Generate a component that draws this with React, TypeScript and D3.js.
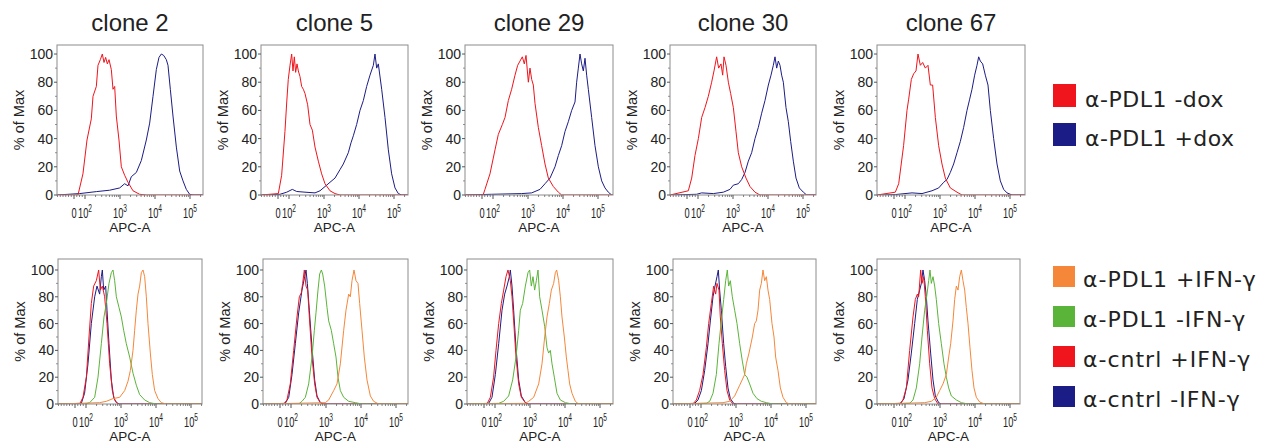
import React from "react";
import * as d3 from "d3";

type Pt = [number, number]; // [log10(APC-A), % of Max]

const cloneNames = ["clone 2", "clone 5", "clone 29", "clone 30", "clone 67"];
const topLegend = ["α-PDL1 -dox", "α-PDL1 +dox"];
const bottomLegend = ["α-PDL1 +IFN-γ", "α-PDL1 -IFN-γ", "α-cntrl +IFN-γ", "α-cntrl -IFN-γ"];
const yTicks = [0, 20, 40, 60, 80, 100];
const xMajor = [0, 1e2, 1e3, 1e4, 1e5];
const xMajorExp = ["", "2", "3", "4", "5"];

// ---- top row: α-PDL1 -dox (red) / +dox (blue)
const c2Minus: Pt[] = [[1.56,0],[1.91,15],[2.057,39],[2.18,54],[2.229,70],[2.324,77],[2.371,92],[2.438,96],[2.495,100],[2.543,94],[2.59,97.6],[2.638,93],[2.686,96],[2.752,89],[2.8,75],[2.848,77],[2.895,56],[2.971,39],[3.038,20],[3.133,14],[3.229,9],[3.371,3],[3.562,0.5],[3.75,0]];
const c2Plus: Pt[] = [[1.71,1],[2.324,2.4],[2.705,3.4],[2.99,5],[3.133,8],[3.229,6.5],[3.324,13],[3.467,16],[3.61,24.5],[3.752,39],[3.848,51],[3.943,70],[4.038,89],[4.114,97.6],[4.181,100],[4.248,99],[4.324,96],[4.371,92],[4.438,75],[4.514,56],[4.61,34],[4.705,17],[4.8,10],[4.895,4],[4.99,0.5],[5.086,0]];
const c5Minus: Pt[] = [[0.48,1],[1.52,14],[1.8,45],[1.9,66],[1.97,82],[2.029,92],[2.076,100],[2.114,88],[2.152,98],[2.19,87],[2.229,93],[2.267,88],[2.314,84],[2.362,77],[2.41,75],[2.457,72],[2.533,64],[2.6,50],[2.667,46],[2.743,34],[2.838,24],[2.933,15],[3.029,8],[3.171,3],[3.314,1],[3.457,0]];
const c5Plus: Pt[] = [[1.26,0.5],[1.9,2],[2.095,4],[2.219,2.5],[2.457,2],[2.743,1.5],[2.886,3],[3.029,6],[3.171,9],[3.314,12],[3.457,18],[3.552,22],[3.695,30],[3.771,37],[3.838,42],[3.933,50],[4.029,60],[4.124,67],[4.219,77],[4.314,85],[4.41,92],[4.457,100],[4.505,90],[4.552,93],[4.648,75],[4.743,55],[4.838,32],[4.933,15],[5.029,5],[5.124,1],[5.219,0]];
const c29Minus: Pt[] = [[1.0,0],[1.43,4],[1.86,15],[2.057,32],[2.152,43],[2.267,50],[2.343,55],[2.438,67],[2.533,75],[2.629,85],[2.705,92],[2.771,95],[2.838,98],[2.895,93],[2.943,99],[3.01,80],[3.057,90],[3.105,82],[3.152,78],[3.2,65],[3.295,48],[3.39,35],[3.486,22],[3.581,12],[3.724,6],[3.867,2],[3.962,0]];
const c29Plus: Pt[] = [[1.94,0.5],[2.819,1],[3.105,1.5],[3.343,4],[3.486,8],[3.629,12],[3.771,20],[3.867,28],[3.962,35],[4.057,45],[4.152,52],[4.248,60],[4.343,66],[4.39,80],[4.438,90],[4.486,100],[4.533,93],[4.581,88],[4.629,97],[4.676,85],[4.724,75],[4.819,55],[4.914,35],[5.01,20],[5.105,10],[5.2,5],[5.295,2],[5.39,0]];
const c30Minus: Pt[] = [[1.08,3],[1.63,12],[1.86,28],[2.01,40],[2.105,55],[2.2,62],[2.295,70],[2.39,80],[2.457,88],[2.533,98],[2.59,90],[2.657,93],[2.705,85],[2.743,98],[2.8,92],[2.867,80],[2.933,72],[3.01,62],[3.086,45],[3.152,30],[3.248,20],[3.371,12],[3.486,6],[3.629,2],[3.771,0]];
const c30Plus: Pt[] = [[1.94,0.5],[2.105,1.5],[2.438,1],[2.724,2],[2.914,4],[3.01,7],[3.152,8],[3.248,11],[3.343,16],[3.438,24],[3.533,30],[3.629,40],[3.724,48],[3.819,58],[3.914,67],[4.01,78],[4.086,85],[4.152,92],[4.2,98],[4.248,90],[4.295,95],[4.343,92],[4.39,85],[4.438,80],[4.514,62],[4.581,52],[4.648,38],[4.724,24],[4.8,12],[4.895,5],[5.01,2],[5.105,0]];
const c67Minus: Pt[] = [[1.08,2],[1.63,8],[1.94,35],[2.057,60],[2.105,68],[2.181,82],[2.248,86],[2.314,88],[2.371,100],[2.438,92],[2.505,94],[2.581,90],[2.657,92],[2.724,78],[2.79,78],[2.867,55],[2.962,35],[3.057,22],[3.152,12],[3.295,5],[3.486,2],[3.629,0]];
const c67Plus: Pt[] = [[1.08,0.3],[2.2,1.5],[2.486,1],[2.771,3],[2.962,5],[3.105,9],[3.2,11],[3.295,16],[3.39,22],[3.486,30],[3.581,38],[3.676,48],[3.771,60],[3.848,68],[3.914,75],[3.99,85],[4.057,92],[4.105,98],[4.152,95],[4.219,93],[4.295,85],[4.371,78],[4.438,60],[4.533,40],[4.629,22],[4.724,10],[4.819,4],[4.914,1.5],[5.057,0]];

// ---- bottom row: orange α-PDL1 +IFN, green α-PDL1 -IFN, red α-cntrl +IFN, blue α-cntrl -IFN
const b2Orange: Pt[] = [[2.39,1],[2.581,2],[2.771,4],[2.962,5],[3.105,10],[3.2,17],[3.267,25],[3.343,40],[3.39,55],[3.438,70],[3.486,82],[3.533,88],[3.581,98],[3.629,100],[3.676,95],[3.724,80],[3.771,60],[3.838,38],[3.895,22],[3.962,10],[4.057,4],[4.152,1],[4.295,0]];
const b2Green: Pt[] = [[1.94,0],[2.105,1],[2.248,5],[2.343,20],[2.438,45],[2.514,65],[2.581,75],[2.657,90],[2.724,98],[2.771,100],[2.819,92],[2.867,80],[2.943,72],[3.01,65],[3.076,55],[3.152,45],[3.248,35],[3.343,23],[3.438,14],[3.533,7],[3.676,3],[3.819,1],[4.01,0]];
const b2Red: Pt[] = [[1.63,0],[1.86,5],[2.01,20],[2.086,50],[2.152,75],[2.219,88],[2.295,92],[2.362,100],[2.41,85],[2.467,88],[2.533,80],[2.6,60],[2.676,30],[2.752,10],[2.819,3],[2.914,0]];
const b2Blue: Pt[] = [[1.76,0.5],[1.94,8],[2.057,30],[2.152,60],[2.248,80],[2.314,88],[2.39,82],[2.438,95],[2.467,100],[2.505,85],[2.562,88],[2.6,70],[2.657,45],[2.724,18],[2.79,5],[2.867,1],[2.962,0]];

const b5Orange: Pt[] = [[2.981,1],[3.076,3],[3.219,10],[3.314,15],[3.41,30],[3.505,55],[3.571,70],[3.648,82],[3.695,80],[3.743,92],[3.8,100],[3.857,92],[3.914,90],[3.962,75],[4.029,55],[4.095,35],[4.171,18],[4.267,6],[4.362,2],[4.505,0]];
const b5Green: Pt[] = [[2.219,0],[2.314,2],[2.41,5],[2.505,15],[2.6,35],[2.667,55],[2.714,68],[2.771,85],[2.819,97],[2.867,100],[2.905,97],[2.962,88],[3.029,72],[3.076,62],[3.152,55],[3.219,45],[3.286,35],[3.343,20],[3.41,10],[3.505,5],[3.648,2],[3.838,1],[4.029,0]];
const b5Red: Pt[] = [[1.52,0],[1.8,3],[1.97,15],[2.076,40],[2.171,65],[2.238,80],[2.295,83],[2.333,90],[2.381,100],[2.429,88],[2.476,85],[2.524,65],[2.6,35],[2.676,15],[2.743,5],[2.838,1],[2.933,0]];
const b5Blue: Pt[] = [[1.68,0.5],[1.9,5],[2.029,22],[2.124,45],[2.219,68],[2.314,85],[2.39,95],[2.429,100],[2.467,90],[2.524,70],[2.6,42],[2.676,18],[2.743,6],[2.838,1],[2.933,0]];

const b29Orange: Pt[] = [[2.867,0.5],[2.962,2],[3.105,5],[3.248,15],[3.343,30],[3.419,50],[3.486,65],[3.552,75],[3.61,85],[3.676,90],[3.724,98],[3.762,100],[3.819,92],[3.867,80],[3.914,65],[3.981,50],[4.038,35],[4.086,25],[4.133,15],[4.2,8],[4.295,2],[4.39,0]];
const b29Green: Pt[] = [[2.105,0.5],[2.248,2],[2.39,6],[2.505,18],[2.6,35],[2.676,55],[2.724,70],[2.79,75],[2.867,88],[2.943,98],[2.99,100],[3.038,88],[3.086,95],[3.133,85],[3.181,92],[3.229,100],[3.276,80],[3.343,70],[3.419,58],[3.486,42],[3.533,38],[3.581,40],[3.629,30],[3.695,20],[3.771,8],[3.867,3],[4.01,1],[4.2,0]];
const b29Red: Pt[] = [[1.43,0],[1.76,5],[1.94,20],[2.029,40],[2.105,60],[2.181,75],[2.248,85],[2.314,95],[2.371,100],[2.438,92],[2.486,80],[2.533,62],[2.6,35],[2.676,15],[2.752,5],[2.867,1],[2.962,0]];
const b29Blue: Pt[] = [[1.63,0.5],[1.86,5],[2.01,22],[2.105,45],[2.2,70],[2.276,82],[2.343,88],[2.41,95],[2.438,100],[2.486,88],[2.533,70],[2.6,42],[2.676,18],[2.752,6],[2.867,1],[2.962,0]];

const b30Orange: Pt[] = [[2.629,1],[2.819,2],[2.962,6],[3.105,14],[3.248,22],[3.295,30],[3.371,38],[3.467,50],[3.533,60],[3.581,62],[3.629,70],[3.676,85],[3.724,90],[3.771,100],[3.819,92],[3.867,95],[3.914,85],[3.962,78],[4.029,60],[4.086,50],[4.133,35],[4.2,25],[4.267,12],[4.343,5],[4.438,1],[4.533,0]];
const b30Green: Pt[] = [[2.152,0.5],[2.248,2],[2.343,8],[2.438,22],[2.514,45],[2.581,62],[2.648,78],[2.705,92],[2.752,100],[2.79,88],[2.838,92],[2.895,80],[2.962,70],[3.029,60],[3.105,45],[3.181,32],[3.248,22],[3.314,20],[3.39,15],[3.486,8],[3.6,4],[3.724,2],[3.867,1],[4.057,0]];
const b30Red: Pt[] = [[1.43,0],[1.76,3],[1.94,10],[2.057,22],[2.152,42],[2.219,60],[2.295,75],[2.362,88],[2.419,82],[2.457,90],[2.514,85],[2.552,65],[2.61,45],[2.676,25],[2.743,10],[2.819,3],[2.914,0]];
const b30Blue: Pt[] = [[1.63,0.5],[1.86,3],[2.01,10],[2.105,25],[2.2,45],[2.267,62],[2.343,80],[2.4,88],[2.457,95],[2.495,100],[2.533,85],[2.581,70],[2.648,45],[2.705,28],[2.771,12],[2.838,4],[2.933,0.5],[3.01,0]];

const b67Orange: Pt[] = [[2.562,1],[2.752,2],[2.895,5],[2.99,10],[3.086,15],[3.181,22],[3.248,35],[3.305,45],[3.371,62],[3.419,78],[3.467,88],[3.514,85],[3.562,95],[3.61,100],[3.657,92],[3.705,85],[3.752,72],[3.8,60],[3.857,42],[3.914,25],[3.971,12],[4.038,5],[4.133,1.5],[4.276,0]];
const b67Green: Pt[] = [[2.133,0.5],[2.229,3],[2.324,12],[2.419,30],[2.486,50],[2.562,70],[2.629,82],[2.676,92],[2.714,100],[2.752,90],[2.8,95],[2.848,88],[2.895,78],[2.962,60],[3.038,45],[3.114,30],[3.181,20],[3.248,12],[3.324,6],[3.467,3],[3.61,1],[3.8,0]];
const b67Red: Pt[] = [[1.71,0],[1.91,3],[2.038,12],[2.133,40],[2.229,65],[2.295,78],[2.352,82],[2.39,80],[2.448,100],[2.486,90],[2.533,95],[2.581,80],[2.638,55],[2.705,30],[2.771,12],[2.848,4],[2.943,0]];
const b67Blue: Pt[] = [[1.78,0.5],[1.96,4],[2.086,18],[2.181,38],[2.276,60],[2.352,78],[2.419,85],[2.467,90],[2.514,100],[2.562,92],[2.61,80],[2.657,62],[2.733,38],[2.8,18],[2.867,6],[2.962,1],[3.038,0]];

const RED = "#f0141c";
const NAVY = "#1c1c86";
const ORANGE = "#f5873a";
const GREEN = "#5bb43a";

const topSeries: { data: Pt[]; color: string }[][] = [
  [{ data: c2Plus, color: NAVY }, { data: c2Minus, color: RED }],
  [{ data: c5Plus, color: NAVY }, { data: c5Minus, color: RED }],
  [{ data: c29Plus, color: NAVY }, { data: c29Minus, color: RED }],
  [{ data: c30Plus, color: NAVY }, { data: c30Minus, color: RED }],
  [{ data: c67Plus, color: NAVY }, { data: c67Minus, color: RED }],
];
const bottomSeries: { data: Pt[]; color: string }[][] = [
  [b2Blue, b2Red, b2Green, b2Orange],
  [b5Blue, b5Red, b5Green, b5Orange],
  [b29Blue, b29Red, b29Green, b29Orange],
  [b30Blue, b30Red, b30Green, b30Orange],
  [b67Blue, b67Red, b67Green, b67Orange],
].map((arr) => arr.map((d, i) => ({ data: d, color: [NAVY, RED, GREEN, ORANGE][i] })));

const topLeftEdges = [57, 261, 465, 670, 877];
const topRightEdges = [203, 408, 613, 816, 1025];
const botLeftEdges = [58, 263, 467, 673, 877];
const botRightEdges = [202, 408, 613, 816, 1020];

const FONT = "'Liberation Sans', Arial, sans-serif";
const LFONT = "'DejaVu Sans', sans-serif";
const TXT = "#222";

function Panel(props: {
  left: number; right: number; top: number; bottom: number; yMax: number;
  series: { data: Pt[]; color: string }[]; id: string;
}) {
  const { left, right, top, bottom, yMax, series, id } = props;
  // logicle-like display: linear near zero, logarithmic above 10^2
  const xLin = d3.scaleLinear().domain([0, 100]).range([left + 17, left + 28]);
  const xLog = d3.scaleLog().domain([100, 1e5]).range([left + 28, left + 133]);
  const x = (v: number) => (v >= 100 ? xLog(v) : xLin(v));
  const vMin = xLin.invert(left);
  const vMax = xLog.invert(right);
  const y = d3.scaleLinear().domain([0, yMax]).range([bottom, top]);

  const line = d3.line<[number, number]>()
    .x((d) => x(d[0]))
    .y((d) => y(d[1]));

  const minorX: number[] = [];
  for (let v = -150; v < 100; v += 25) if (v !== 0) minorX.push(v);
  for (let e = 2; e <= 5; e++) for (let m = 2; m <= 9; m++) {
    const v = m * Math.pow(10, e);
    if (v <= vMax) minorX.push(v);
  }
  const minorY = [10, 30, 50, 70, 90];

  return (
    <g>
      <defs>
        <clipPath id={id}>
          <rect x={left} y={top} width={right - left} height={bottom - top} />
        </clipPath>
      </defs>
      <g clipPath={`url(#${id})`}>
        {series.map((s, i) => {
          const pts: [number, number][] = [[vMin, 0], ...s.data.map((p) => [Math.pow(10, p[0]), p[1]] as [number, number]), [vMax, 0]];
          return <path key={i} d={line(pts) || ""} fill="none" stroke={s.color} strokeWidth={1} strokeLinejoin="round" />;
        })}
      </g>
      <rect x={left} y={top} width={right - left} height={bottom - top} fill="none" stroke="#8c8c8c" strokeWidth={1} />
      {/* y axis */}
      {yTicks.map((t) => (
        <g key={"y" + t}>
          <line x1={left - 3} x2={left} y1={y(t)} y2={y(t)} stroke="#555" strokeWidth={1} />
          <text x={left - 4} y={y(t)} dy="0.36em" textAnchor="end" fontSize={14} fontFamily={FONT} fill={TXT}>{t}</text>
        </g>
      ))}
      {minorY.map((t) => (
        <line key={"my" + t} x1={left - 2} x2={left} y1={y(t)} y2={y(t)} stroke="#777" strokeWidth={0.8} />
      ))}
      <text transform={`translate(${left - 38},${(top + bottom) / 2}) rotate(-90)`} textAnchor="middle" dy="0.35em" fontSize={14.5} fontFamily={FONT} fill={TXT}>% of Max</text>
      {/* x axis */}
      {minorX.map((v, i) => (
        <line key={"mx" + i} x1={x(v)} x2={x(v)} y1={bottom} y2={bottom + 2} stroke="#666" strokeWidth={0.8} />
      ))}
      {xMajor.map((v, i) => (
        <g key={"x" + i}>
          <line x1={x(v)} x2={x(v)} y1={bottom} y2={bottom + 4} stroke="#555" strokeWidth={1} />
          <g transform={`translate(${x(v)},${bottom + 23}) scale(0.66,1)`}>
            <text x={0} y={0} textAnchor="middle" fontSize={14} fontFamily={FONT} fill={TXT}>
              {i === 0 ? "0" : "10"}
              {xMajorExp[i] && <tspan dy={-6} fontSize={10}>{xMajorExp[i]}</tspan>}
            </text>
          </g>
        </g>
      ))}
      <text x={(left + right) / 2} y={bottom + 37} textAnchor="middle" fontSize={13.5} fontFamily={FONT} fill={TXT}>APC-A</text>
    </g>
  );
}

export default function App() {
  return (
    <svg width={1269} height={444} viewBox="0 0 1269 444" style={{ display: "block", position: "absolute", left: 0, top: 0, background: "#fff" }}>
      <rect x={0} y={0} width={1269} height={444} fill="#fff" />
      {cloneNames.map((name, i) => (
        <text key={name} x={(topLeftEdges[i] + topRightEdges[i]) / 2} y={31} textAnchor="middle" fontSize={24} fontFamily={FONT} fill={TXT}>{name}</text>
      ))}
      {topSeries.map((s, i) => (
        <Panel key={"t" + i} id={"ct" + i} left={topLeftEdges[i]} right={topRightEdges[i]} top={45} bottom={195} yMax={106.4} series={s} />
      ))}
      {bottomSeries.map((s, i) => (
        <Panel key={"b" + i} id={"cb" + i} left={botLeftEdges[i]} right={botRightEdges[i]} top={259} bottom={404} yMax={108.2} series={s} />
      ))}
      {topLegend.map((label, i) => (
        <g key={label}>
          <rect x={1053} y={84 + i * 39} width={23} height={23} fill={[RED, NAVY][i]} />
          <text x={1085} y={107 + i * 39} fontSize={22} fontFamily={LFONT} letterSpacing={0.5} fill={TXT}>{label}</text>
        </g>
      ))}
      {bottomLegend.map((label, i) => (
        <g key={label}>
          <rect x={1053} y={266 + i * 40} width={22} height={21} fill={[ORANGE, GREEN, RED, NAVY][i]} />
          <text x={1083} y={287 + i * 40} fontSize={22} fontFamily={LFONT} letterSpacing={1} fill={TXT}>{label}</text>
        </g>
      ))}
    </svg>
  );
}
